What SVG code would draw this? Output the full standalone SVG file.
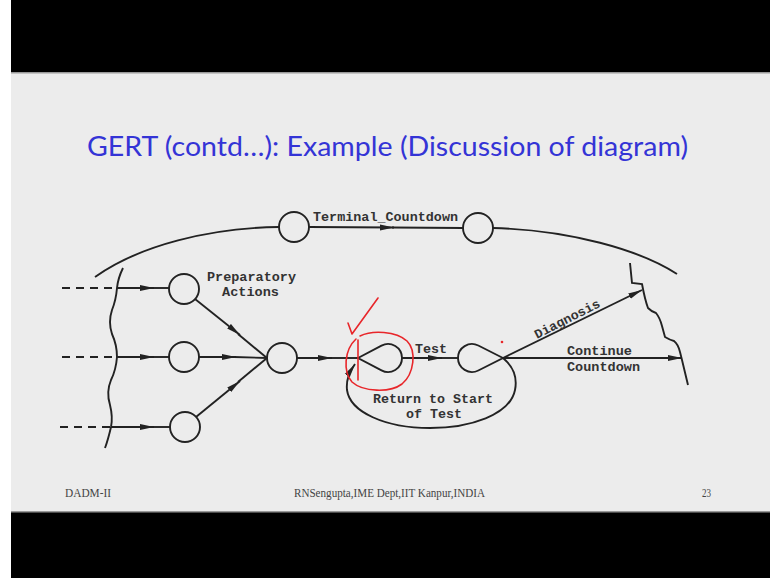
<svg xmlns="http://www.w3.org/2000/svg" width="770" height="578" viewBox="0 0 770 578">
<defs>
<style>
.ln{fill:none;stroke:#222;stroke-width:1.9}
.nd{fill:none;stroke:#222;stroke-width:1.9}
.tx{font-family:"Liberation Mono",monospace;font-weight:bold;font-size:13px;fill:#333}
.ft{font-family:"Liberation Serif",serif;font-size:12.5px;fill:#444}
.red{fill:none;stroke:#e8262a;stroke-width:1.6;stroke-linecap:round;stroke-linejoin:round}
</style>
<marker id="arr" viewBox="0 0 14 7" refX="14" refY="3.5" markerWidth="14" markerHeight="7" markerUnits="userSpaceOnUse" orient="auto">
<path d="M0,0.5 L14,3.5 L0,6.5 z" fill="#222"/>
</marker>
</defs>
<rect x="0" y="0" width="770" height="578" fill="#ffffff"/>
<rect x="11" y="0" width="759" height="73" fill="#000"/>
<rect x="11" y="73" width="759" height="439" fill="#ececec"/>
<rect x="11" y="72" width="759" height="1.5" fill="#999"/>
<rect x="11" y="512" width="759" height="66" fill="#000"/>
<rect x="11" y="511" width="759" height="1.5" fill="#999"/>

<text x="87" y="156" font-family="Lato,'Open Sans',sans-serif" font-size="27" fill="#3434d6" textLength="601" lengthAdjust="spacingAndGlyphs">GERT (contd…): Example (Discussion of diagram)</text>

<g id="connectors">
<line class="ln" x1="62" y1="288" x2="115" y2="288" stroke-dasharray="8,6"/>
<line class="ln" x1="62" y1="357" x2="116" y2="357" stroke-dasharray="8,6"/>
<line class="ln" x1="60" y1="427" x2="110" y2="427" stroke-dasharray="8,6"/>
<path class="ln" d="M123,268 Q118,278 117,288 Q116,300 112,310 Q108,322 112,334 Q117,345 117,357 Q116,370 111,380 Q106,392 110,405 Q113,417 111,427 Q108,440 105,448"/>
<path class="ln" d="M117,288 L154,288" marker-end="url(#arr)"/><path class="ln" d="M152,288 L169,288"/>
<path class="ln" d="M117,357 L154,357" marker-end="url(#arr)"/><path class="ln" d="M152,357 L169,357"/>
<path class="ln" d="M111,427 L154,427" marker-end="url(#arr)"/><path class="ln" d="M152,427 L170,427"/>
<path class="ln" d="M195,299 L240,335" marker-end="url(#arr)"/><path class="ln" d="M238,334 L267,358"/>
<path class="ln" d="M199,357 L236,357" marker-end="url(#arr)"/><path class="ln" d="M234,357 L267,358"/>
<path class="ln" d="M196,417 L240,381" marker-end="url(#arr)"/><path class="ln" d="M238,382 L267,358"/>
<path class="ln" d="M297,358 L332,358" marker-end="url(#arr)"/><path class="ln" d="M330,358 L358,358"/>
<path class="ln" d="M402,358 L442,358" marker-end="url(#arr)"/><path class="ln" d="M440,358 L458,358"/>
<path class="ln" d="M503,358 L642,290" marker-end="url(#arr)"/>
<path class="ln" d="M503,358 L682,358" marker-end="url(#arr)"/>
<path class="ln" d="M630,263 L632,283 L642,284 Q645,300 648,308 Q652,312 656,313 Q660,318 662,326 L665,337 Q670,340 674,341 Q678,344 680,352 L682,360 L688,385"/>
<path class="ln" d="M503,358 C515,368 517,380 515,390 C510,415 470,428 430,428 C385,428 350,412 347,390 C346,380 349,373 355,364" marker-end="url(#arr)"/>
<path class="ln" d="M95,277 C140,245 210,228 279,227"/>
<path class="ln" d="M309,227 L394,227.5" marker-end="url(#arr)"/><path class="ln" d="M392,227.5 L463,228"/>
<path class="ln" d="M493,228 C570,230 640,250 677,274"/>
</g>

<g id="n-tc1"><circle class="nd" cx="294" cy="227" r="15"/></g>
<g id="n-tc2"><circle class="nd" cx="478" cy="228" r="15"/></g>
<g id="n-p1"><circle class="nd" cx="184" cy="289" r="15"/></g>
<g id="n-p2"><circle class="nd" cx="184" cy="357" r="15"/></g>
<g id="n-p3"><circle class="nd" cx="185" cy="427" r="15"/></g>
<g id="n-merge"><circle class="nd" cx="282" cy="358" r="15"/></g>
<g id="n-teststart"><path class="nd" d="M358,358 L381.5,345.6 A14,14 0 1 1 381.5,370.4 Z"/></g>
<g id="n-testend"><path class="nd" d="M503,358 L478.3,345.5 A14,14 0 1 0 478.3,370.5 Z"/></g>

<g id="labels">
<text class="tx" x="313" y="221" textLength="145" lengthAdjust="spacingAndGlyphs">Terminal_Countdown</text>
<text class="tx" x="207" y="281" textLength="89" lengthAdjust="spacingAndGlyphs">Preparatory</text>
<text class="tx" x="222" y="296" textLength="57" lengthAdjust="spacingAndGlyphs">Actions</text>
<text class="tx" x="415" y="353" textLength="32" lengthAdjust="spacingAndGlyphs">Test</text>
<text class="tx" x="0" y="0" textLength="72" lengthAdjust="spacingAndGlyphs" transform="translate(537,339) rotate(-27)">Diagnosis</text>
<text class="tx" x="567" y="355" textLength="65" lengthAdjust="spacingAndGlyphs">Continue</text>
<text class="tx" x="567" y="371" textLength="73" lengthAdjust="spacingAndGlyphs">Countdown</text>
<text class="tx" x="373" y="403" textLength="120" lengthAdjust="spacingAndGlyphs">Return to Start</text>
<text class="tx" x="406" y="418" textLength="56" lengthAdjust="spacingAndGlyphs">of Test</text>
</g>

<g id="annotation">
<path class="red" d="M360,336 C372,330 396,331 407,341 C417,351 414,374 402,384 C390,393 363,392 352,382 C343,372 344,350 356,339"/>
<line class="red" x1="358" y1="340" x2="358" y2="380" stroke-width="2"/>
<path class="red" d="M348,323 L352,334 L378,298"/>
<circle cx="502" cy="342" r="1.3" fill="#e8262a"/>
</g>

<g id="footer">
<text class="ft" x="65" y="497" textLength="46" lengthAdjust="spacingAndGlyphs">DADM-II</text>
<text class="ft" x="294" y="497" textLength="191" lengthAdjust="spacingAndGlyphs">RNSengupta,IME Dept,IIT Kanpur,INDIA</text>
<text class="ft" x="702" y="497" textLength="9" lengthAdjust="spacingAndGlyphs">23</text>
</g>
</svg>
